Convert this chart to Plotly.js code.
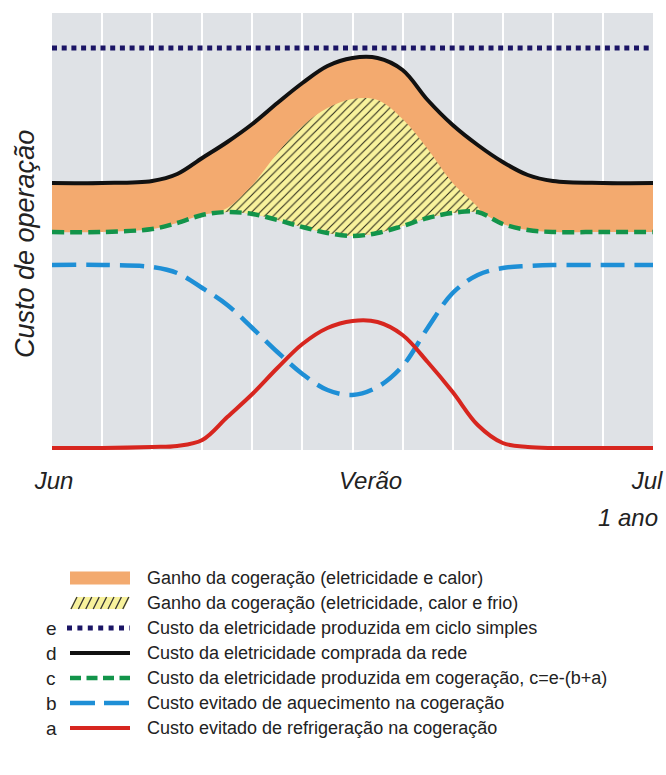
<!DOCTYPE html>
<html>
<head>
<meta charset="utf-8">
<script src="https://cdn.plot.ly/plotly-3.0.1.min.js"></script>
<style>html,body{margin:0;padding:0;background:#fff;}#chart{width:666px;height:775px;}</style>
</head>
<body>
<div id="chart"></div>
<script>
// ---- data (arbitrary cost units, 0 = bottom of plot) ----
const xPts = [0, 1, 2, 2.5, 3, 3.5, 4, 4.5, 5, 5.5, 6, 6.5, 7, 7.5, 8, 8.5, 9, 9.5, 10, 11, 12];
const custoRede_d = [267, 267, 269, 276, 292, 308, 326, 347, 367, 384, 392, 392, 380, 350, 325, 305, 288, 275, 269, 267, 267];
const custoCogeracao_c = [218, 218, 221, 227, 235, 238, 236, 230, 223, 217, 214, 217, 224, 232, 237, 238, 226, 220, 218, 218, 218];
const aquecimento_b = [185, 185, 183, 177, 162, 145, 122, 98, 76, 60, 55, 63, 84, 122, 157, 175, 182, 184, 185, 185, 185];
const refrigeracao_a = [2, 2, 3, 4, 10, 33, 56, 82, 106, 122, 129, 128, 115, 88, 58, 25, 7, 3, 2, 2, 2];
const xE = [0, 12];
const cicloSimples_e = [402, 402];
const xHatch = [3.2, 3.5, 4, 4.5, 5, 5.5, 6, 6.5, 7, 7.5, 8, 8.5, 8.58];
const hatchBase = [236.5, 238, 236, 230, 223, 217, 214, 217, 224, 232, 237, 238, 237];
const hatchTop = [236.5, 242, 265, 297, 324, 342, 351, 350, 331, 301, 267, 243, 237];

const tickVals = [0.04, 6.36, 11.88];
const tickLabels = ['Jun', 'Verão', 'Jul'];
const yTitle = 'Custo de operação';
const periodLabel = '1 ano';

const legendLetters = ['', '', 'e', 'd', 'c', 'b', 'a'];
const legendLabels = [
  'Ganho da cogeração (eletricidade e calor)',
  'Ganho da cogeração (eletricidade, calor e frio)',
  'Custo da eletricidade produzida em ciclo simples',
  'Custo da eletricidade comprada da rede',
  'Custo da eletricidade produzida em cogeração, c=e-(b+a)',
  'Custo evitado de aquecimento na cogeração',
  'Custo evitado de refrigeração na cogeração'
];

// ---- styles ----
const C = {
  bg: '#dfe2e6', orange: '#f3aa6f', yellow: '#f8f29c', navy: '#1b1565',
  black: '#111111', green: '#12944a', blue: '#1e8fd6', red: '#d7261f', text: '#222222'
};
const L = 52, R = 13, T = 13, B = 325, W = 666, H = 775;
const PW = W - L - R, PH = H - T - B;
const px = v => (v - L) / PW;
const py = v => (H - B - v) / PH;

const traces = [
  {x: xPts, y: custoCogeracao_c, mode: 'lines', line: {width: 0, shape: 'spline'}, hoverinfo: 'skip'},
  {x: xPts, y: custoRede_d, mode: 'lines', fill: 'tonexty', fillcolor: C.orange, line: {width: 0, shape: 'spline'}, hoverinfo: 'skip'},
  {x: xHatch, y: hatchBase, mode: 'lines', line: {width: 0, shape: 'spline'}, hoverinfo: 'skip'},
  {x: xHatch, y: hatchTop, mode: 'lines', fill: 'tonexty', fillcolor: C.yellow,
   fillpattern: {shape: '/', fgcolor: '#2a2a1a', bgcolor: C.yellow, size: 6, solidity: 0.18},
   line: {width: 0, shape: 'spline'}, hoverinfo: 'skip'},
  {x: xPts, y: custoCogeracao_c, mode: 'lines', line: {color: C.green, width: 4.5, dash: '12px,6px', shape: 'spline'}},
  {x: xPts, y: custoRede_d, mode: 'lines', line: {color: C.black, width: 4, shape: 'spline'}},
  {x: xPts, y: aquecimento_b, mode: 'lines', line: {color: C.blue, width: 4.5, dash: '24px,10px', shape: 'spline'}},
  {x: xPts, y: refrigeracao_a, mode: 'lines', line: {color: C.red, width: 4, shape: 'spline'}},
  {x: xE, y: cicloSimples_e, mode: 'lines', line: {color: C.navy, width: 5, dash: '5px,4.7px'}}
];
traces.forEach(t => { t.showlegend = false; });

// ---- manual legend ----
const rows = [578, 603, 628, 653, 678, 703, 728];
const sx0 = 70, sx1 = 130;
const shapes = [];
const annotations = [];
shapes.push({type: 'rect', xref: 'paper', yref: 'paper', x0: px(sx0), x1: px(sx1), y0: py(rows[0] + 6.5), y1: py(rows[0] - 6.5),
  fillcolor: C.orange, line: {width: 0}});
// hatched swatch
const hy0 = rows[1] + 6, hy1 = rows[1] - 6;
shapes.push({type: 'path', xref: 'paper', yref: 'paper',
  path: `M${px(sx0)},${py(hy0)} L${px(sx0 + 6)},${py(hy1)} L${px(sx1)},${py(hy1)} L${px(sx1 - 6)},${py(hy0)} Z`,
  fillcolor: C.yellow, line: {width: 0}});
for (let k = 0; k < 8; k++) {
  const a = sx0 + 1 + k * 7.4;
  shapes.push({type: 'line', xref: 'paper', yref: 'paper', x0: px(a), y0: py(hy0), x1: px(a + 6), y1: py(hy1),
    line: {color: '#333', width: 1.3}});
}
const lineStyles = [
  null, null,
  {color: C.navy, width: 5, dash: '5px,5.4px'},
  {color: C.black, width: 4, dash: 'solid'},
  {color: C.green, width: 4.5, dash: '11px,5.5px'},
  {color: C.blue, width: 4.5, dash: '25px,9px'},
  {color: C.red, width: 4, dash: 'solid'}
];
const legFont = {family: '"Liberation Sans", Arial, sans-serif', size: 18, color: C.text};
rows.forEach((ry, i) => {
  if (lineStyles[i]) {
    shapes.push({type: 'line', xref: 'paper', yref: 'paper', x0: px(i === 2 ? 67 : sx0), x1: px(sx1), y0: py(ry), y1: py(ry), line: lineStyles[i]});
  }
  if (legendLetters[i]) {
    annotations.push({xref: 'paper', yref: 'paper', x: px(51), y: py(ry), xanchor: 'center', yanchor: 'middle',
      text: legendLetters[i], showarrow: false, font: Object.assign({}, legFont, {size: 19})});
  }
  annotations.push({xref: 'paper', yref: 'paper', x: px(145), y: py(ry), xanchor: 'left', yanchor: 'middle',
    text: legendLabels[i], showarrow: false, font: legFont});
});

const axFont = {family: '"Liberation Sans", Arial, Helvetica, sans-serif', size: 24, color: C.text, style: 'italic'};
annotations.push({xref: 'paper', yref: 'paper', x: px(25), y: py(244), xanchor: 'center', yanchor: 'middle',
  text: yTitle, textangle: -90, showarrow: false, font: Object.assign({}, axFont, {size: 27})});
annotations.push({xref: 'paper', yref: 'paper', x: px(628), y: py(517), xanchor: 'center', yanchor: 'middle',
  text: periodLabel, showarrow: false, font: axFont});

const gridVals = [];
for (let g = 1; g < 12; g++) gridVals.push(g);

const layout = {
  width: W, height: H,
  margin: {l: L, r: R, t: T, b: B, pad: 0},
  paper_bgcolor: '#ffffff', plot_bgcolor: C.bg,
  showlegend: false,
  xaxis: {range: [0, 12], tickmode: 'array', tickvals: tickVals, ticktext: tickLabels, ticks: '',
    showgrid: false, zeroline: false, showline: false, tickfont: axFont, ticklabelstandoff: 14,
    minor: {tickmode: 'array', tickvals: gridVals, showgrid: true, gridcolor: '#ffffff', gridwidth: 2, ticks: ''}},
  yaxis: {range: [0, 437], showgrid: false, zeroline: false, showline: false, showticklabels: false, ticks: ''},
  shapes: shapes,
  annotations: annotations,
  hovermode: false
};

Plotly.newPlot('chart', traces, layout, {staticPlot: true, displayModeBar: false});
</script>
</body>
</html>
